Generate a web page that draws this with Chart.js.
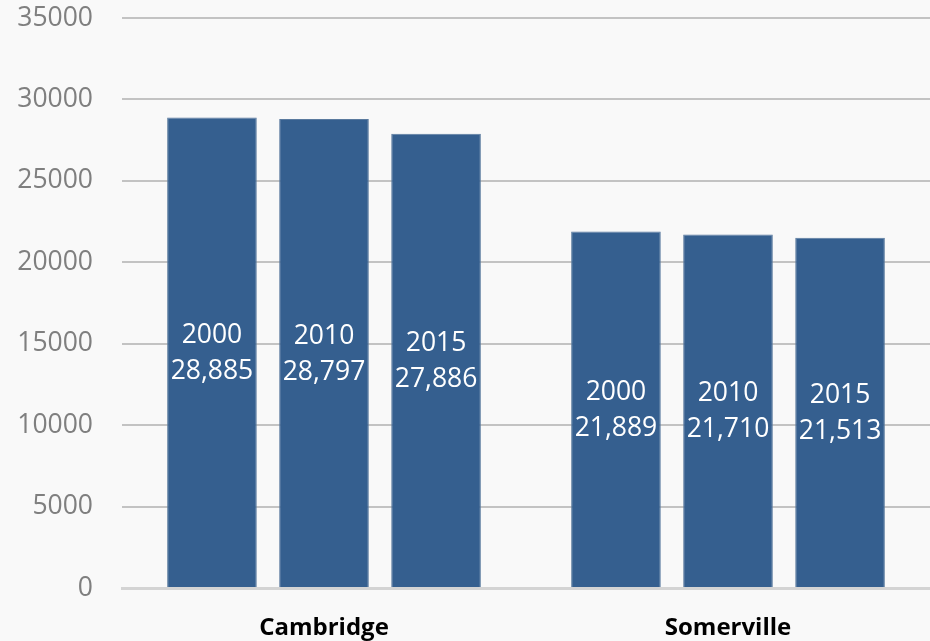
<!DOCTYPE html>
<html>
<head>
<meta charset="utf-8">
<script src="https://cdn.jsdelivr.net/npm/chart.js@4/dist/chart.umd.min.js"></script>
<style>
html,body{margin:0;padding:0;background:#f9f9f9;}
#wrap{width:930px;height:641px;position:relative;}
</style>
</head>
<body>
<div id="wrap"><canvas id="c" width="930" height="641"></canvas></div>
<script>
const categories = ["Cambridge", "Somerville"];
const years = ["2000", "2010", "2015"];
const values2000 = [28885, 21889];
const values2010 = [28797, 21710];
const values2015 = [27886, 21513];
const yTicks = [0, 5000, 10000, 15000, 20000, 25000, 30000, 35000];

const seriesValues = [values2000, values2010, values2015];
const barColor = "#355f8f";

const labelPlugin = {
  id: "barLabels",
  afterDatasetsDraw(chart) {
    const ctx = chart.ctx;
    ctx.save();
    ctx.fillStyle = "#ffffff";
    ctx.font = "26.5px 'Open Sans'";
    ctx.textAlign = "center";
    ctx.textBaseline = "middle";
    chart.data.datasets.forEach((ds, di) => {
      const meta = chart.getDatasetMeta(di);
      meta.data.forEach((el, i) => {
        const mid = (el.y + el.base) / 2;
        const v = ds.data[i];
        ctx.fillText(ds.label, el.x, mid - 17);
        ctx.fillText(v.toLocaleString("en-US"), el.x, mid + 19);
      });
    });
    ctx.restore();
  }
};

new Chart(document.getElementById("c"), {
  type: "bar",
  data: {
    labels: categories,
    datasets: years.map((y, i) => ({
      label: y,
      data: seriesValues[i],
      backgroundColor: barColor,
      borderColor: "#5a7a9e",
      borderWidth: {top: 1, left: 1, right: 1, bottom: 0},
      categoryPercentage: 0.832,
      barPercentage: 0.80
    }))
  },
  options: {
    responsive: false,
    animation: false,
    devicePixelRatio: 1,
    layout: {padding: {top: 18, right: 0, left: 0, bottom: 0}},
    plugins: {legend: {display: false}, tooltip: {enabled: false}},
    scales: {
      x: {
        grid: {display: false, drawTicks: false},
        border: {display: true, color: "#d4d4d4", width: 3},
        ticks: {
          color: "#000000",
          font: {family: "'Open Sans'", size: 24, weight: "bold"},
          padding: 26
        },
        afterFit(s) { s.height = 53; s.paddingLeft = 0; s.paddingRight = 0; }
      },
      y: {
        min: 0,
        max: 35000,
        afterBuildTicks(s) { s.ticks = yTicks.map(v => ({value: v})); },
        grid: {color: "#c3c3c3", lineWidth: 2, drawTicks: false},
        border: {display: false},
        ticks: {
          color: "#7f7f7f",
          font: {family: "'Open Sans'", size: 26.5},
          padding: 29,
          callback: v => String(v)
        },
        afterFit(s) { s.width = 122; s.paddingTop = 0; s.paddingBottom = 0; }
      }
    }
  },
  plugins: [labelPlugin]
});
</script>
</body>
</html>
